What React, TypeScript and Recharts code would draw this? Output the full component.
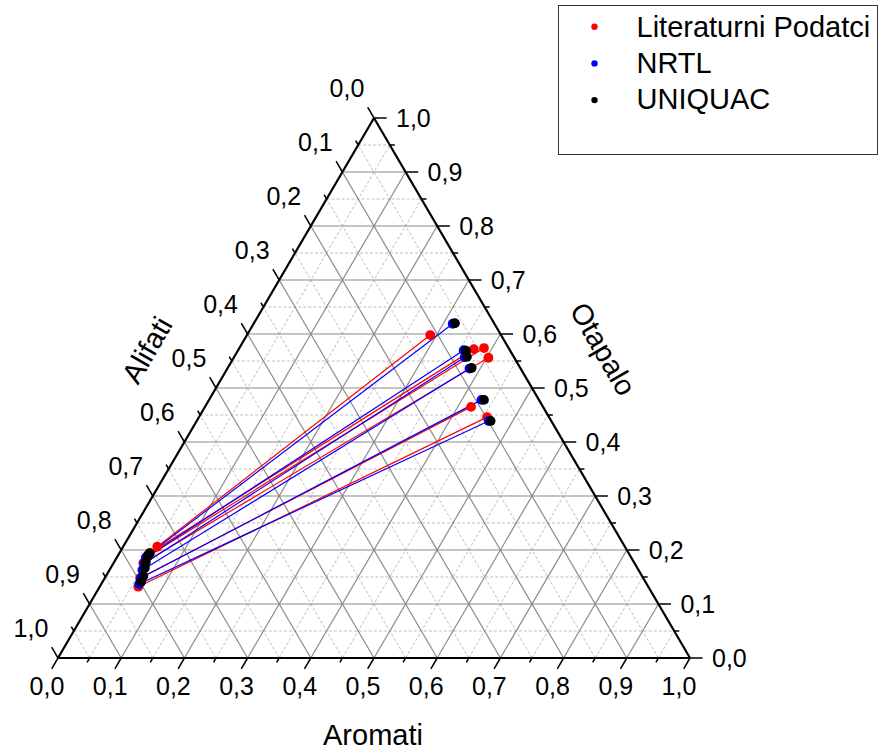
import React from 'react';
import { ScatterChart, Scatter, XAxis, YAxis, ReferenceLine, Legend } from 'recharts';

// composition: Aromati (bottom axis), Otapalo (right axis),
// Alifati (left axis) is the remainder 1 - Aromati - Otapalo
const litRaffAromati = [0.054, 0.048, 0.047, 0.047, 0.056, 0.061];
const litRaffOtapalo = [0.206, 0.194, 0.187, 0.176, 0.148, 0.132];
const litExtAromati = [0.290, 0.372, 0.387, 0.403, 0.421, 0.456];
const litExtOtapalo = [0.598, 0.572, 0.574, 0.556, 0.465, 0.446];

const nrtlRaffAromati = [0.047, 0.046, 0.049, 0.052, 0.057, 0.060];
const nrtlRaffOtapalo = [0.191, 0.186, 0.175, 0.163, 0.148, 0.137];
const nrtlExtAromati = [0.315, 0.357, 0.365, 0.383, 0.431, 0.462];
const nrtlExtOtapalo = [0.619, 0.570, 0.557, 0.536, 0.478, 0.439];

const uniqRaffAromati = [0.048, 0.048, 0.050, 0.054, 0.059, 0.061];
const uniqRaffOtapalo = [0.194, 0.189, 0.178, 0.167, 0.152, 0.141];
const uniqExtAromati = [0.318, 0.361, 0.368, 0.386, 0.435, 0.465];
const uniqExtOtapalo = [0.620, 0.569, 0.558, 0.537, 0.478, 0.439];

const MAJOR_TICKS = [0, 0.1, 0.2, 0.3, 0.4, 0.5, 0.6, 0.7, 0.8, 0.9, 1.0];
const MINOR_TICKS = [0.05, 0.15, 0.25, 0.35, 0.45, 0.55, 0.65, 0.75, 0.85, 0.95];
const GRID_MAJOR = [0.1, 0.2, 0.3, 0.4, 0.5, 0.6, 0.7, 0.8, 0.9];

const SERIES_NAMES = ['Literaturni Podatci', 'NRTL', 'UNIQUAC'];
const SERIES_COLORS = ['#ff0000', '#0000ff', '#000000'];

const FONT = '"Liberation Sans", Arial, sans-serif';
const MAJOR_LEN = 0.02;
const MINOR_LEN = 0.008;

// ternary -> cartesian (x along the base, y = height fraction)
const pt = (a: number, o: number) => ({ x: a + o / 2, y: o });
const fmt = (v: number) => v.toFixed(1).replace('.', ',');

const toPoints = (aro: number[], ota: number[]) => aro.map((a, i) => pt(a, ota[i]));

const litRaff = toPoints(litRaffAromati, litRaffOtapalo);
const litExt = toPoints(litExtAromati, litExtOtapalo);
const nrtlRaff = toPoints(nrtlRaffAromati, nrtlRaffOtapalo);
const nrtlExt = toPoints(nrtlExtAromati, nrtlExtOtapalo);
const uniqRaff = toPoints(uniqRaffAromati, uniqRaffOtapalo);
const uniqExt = toPoints(uniqExtAromati, uniqExtOtapalo);

type Seg = [{ x: number; y: number }, { x: number; y: number }];

const bottomTick = (v: number, t: number): Seg => [pt(v, 0), pt(v, -t)];
const rightTick = (v: number, t: number): Seg => [pt(1 - v, v), pt(1 - v + t, v)];
const leftTick = (v: number, t: number): Seg => [pt(0, 1 - v), pt(-t, 1 - v + t)];

const gridSegs = (v: number): Seg[] => [
  [pt(v, 0), pt(v, 1 - v)],
  [pt(0, v), pt(1 - v, v)],
  [pt(1 - v, 0), pt(0, 1 - v)],
];

const minorGrid = MINOR_TICKS.flatMap(gridSegs);
const majorGrid = GRID_MAJOR.flatMap(gridSegs);
const ticks: Seg[] = [
  ...MAJOR_TICKS.flatMap((v) => [bottomTick(v, MAJOR_LEN), rightTick(v, MAJOR_LEN), leftTick(v, MAJOR_LEN)]),
  ...MINOR_TICKS.flatMap((v) => [bottomTick(v, MINOR_LEN), rightTick(v, MINOR_LEN), leftTick(v, MINOR_LEN)]),
];
const sides: Seg[] = [
  [pt(0, 0), pt(1, 0)],
  [pt(1, 0), pt(0, 1)],
  [pt(0, 1), pt(0, 0)],
];

const bottomLabels = MAJOR_TICKS.map((v) => ({ ...pt(v, 0), label: fmt(v) }));
const rightLabels = MAJOR_TICKS.map((v) => ({ ...pt(1 - v, v), label: fmt(v) }));
const leftLabels = MAJOR_TICKS.map((v) => ({ ...pt(0, 1 - v), label: fmt(v) }));

const titles = [
  { ...pt(0.5, 0), label: 'Aromati', dx: -1, dy: 77, rot: 0 },
  { ...pt(0, 0.5), label: 'Alifati', dx: -69, dy: -38, rot: -60 },
  { ...pt(0.5, 0.5), label: 'Otapalo', dx: 71, dy: -39, rot: 60 },
];

const labelShape = (dx: number, dy: number, anchor: string) => (props: any) => (
  <text x={props.cx + dx} y={props.cy + dy} textAnchor={anchor} fontSize={25} fontFamily={FONT} fill="#000">
    {props.payload.label}
  </text>
);

const titleShape = (props: any) => {
  const { dx, dy, rot, label } = props.payload;
  const x = props.cx + dx;
  const y = props.cy + dy;
  return (
    <text x={x} y={y} textAnchor="middle" dominantBaseline="central" fontSize={29} fontFamily={FONT} fill="#000"
      transform={`rotate(${rot} ${x} ${y})`}>
      {label}
    </text>
  );
};

const dotShape = (color: string) => (props: any) => <circle cx={props.cx} cy={props.cy} r={4.9} fill={color} />;
const noShape = () => <g />;

const LegendBox = () => (
  <svg width={320} height={150} style={{ display: 'block' }}>
    <rect x={0.5} y={0.5} width={319} height={149} fill="#fff" stroke="#333" strokeWidth={1} />
    {SERIES_NAMES.map((name, i) => (
      <g key={name}>
        <circle cx={36.5} cy={21.7 + i * 36.7} r={3.2} fill={SERIES_COLORS[i]} />
        <text x={78.5} y={31.7 + i * 36} fontSize={29} fontFamily={FONT} fill="#000">{name}</text>
      </g>
    ))}
  </svg>
);

export default function App() {
  return (
    <div style={{ position: 'absolute', left: 0, top: 0 }}>
      <ScatterChart width={882} height={753} margin={{ top: 0, right: 0, bottom: 0, left: 0 }}>
        <XAxis type="number" dataKey="x" hide domain={[-58 / 632, 824 / 632]} allowDataOverflow />
        <YAxis type="number" dataKey="y" hide domain={[-95 / 540, 658 / 540]} allowDataOverflow />

        {minorGrid.map((s, i) => (
          <ReferenceLine key={`mn${i}`} segment={s} stroke="#bdbdbd" strokeWidth={1} strokeDasharray="3 2" />
        ))}
        {majorGrid.map((s, i) => (
          <ReferenceLine key={`mj${i}`} segment={s} stroke="#8a8a8a" strokeWidth={1.2} />
        ))}
        {ticks.map((s, i) => (
          <ReferenceLine key={`tk${i}`} segment={s} stroke="#000" strokeWidth={1.5} />
        ))}
        {sides.map((s, i) => (
          <ReferenceLine key={`sd${i}`} segment={s} stroke="#000" strokeWidth={2.2} />
        ))}

        <Scatter data={bottomLabels} shape={labelShape(-11, 37, 'middle')} isAnimationActive={false} />
        <Scatter data={rightLabels} shape={labelShape(22, 9, 'start')} isAnimationActive={false} />
        <Scatter data={leftLabels} shape={labelShape(-27, -21, 'middle')} isAnimationActive={false} />
        <Scatter data={titles} shape={titleShape} isAnimationActive={false} />

        {litRaff.map((p, i) => (
          <Scatter key={`ltl${i}`} data={[p, litExt[i]]} fill={SERIES_COLORS[0]} line={{ strokeWidth: 1.2 }}
            shape={noShape} isAnimationActive={false} />
        ))}
        {nrtlRaff.map((p, i) => (
          <Scatter key={`ntl${i}`} data={[p, nrtlExt[i]]} fill={SERIES_COLORS[1]} line={{ strokeWidth: 1.2 }}
            shape={noShape} isAnimationActive={false} />
        ))}

        <Scatter name={SERIES_NAMES[0]} data={[...litRaff, ...litExt]} shape={dotShape(SERIES_COLORS[0])} isAnimationActive={false} />
        <Scatter name={SERIES_NAMES[1]} data={[...nrtlRaff, ...nrtlExt]} shape={dotShape(SERIES_COLORS[1])} isAnimationActive={false} />
        <Scatter name={SERIES_NAMES[2]} data={[...uniqRaff, ...uniqExt]} shape={dotShape(SERIES_COLORS[2])} isAnimationActive={false} />

        <Legend layout="vertical" align="center" verticalAlign="middle"
          wrapperStyle={{ left: 558, top: 5, width: 320, height: 150 }} content={() => <LegendBox />} />
      </ScatterChart>
    </div>
  );
}
